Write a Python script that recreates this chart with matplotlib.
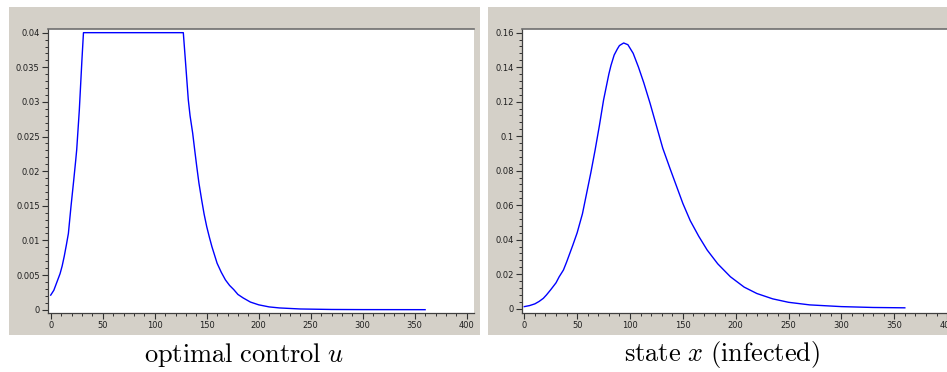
import matplotlib
matplotlib.use("Agg")
import matplotlib.pyplot as plt
from matplotlib.patches import Rectangle
from matplotlib.ticker import MultipleLocator

plt.rcParams['mathtext.fontset'] = 'cm'

# ---- data ----
t_u = [0, 3, 5, 7, 9, 11, 13, 15, 17, 19.5, 22, 24, 25, 27.5, 30, 31.5,
       127.5, 129.5, 132.3, 134, 136.5, 138.5, 140.4, 142.5, 145.2, 147.5, 150,
       152.5, 155, 157.5, 160, 164, 168, 172, 176, 180, 185, 192, 200, 210, 220,
       240, 270, 300, 360]
u_vals = [0.0021, 0.0028, 0.0036, 0.0044, 0.0052, 0.0063, 0.0077, 0.0093, 0.011,
          0.0149, 0.0185, 0.0215, 0.0231, 0.0288, 0.036, 0.040,
          0.040, 0.036, 0.0303, 0.028, 0.0255, 0.023, 0.0207, 0.0183, 0.0158,
          0.0138, 0.0120, 0.0105, 0.0091, 0.0079, 0.0067, 0.0054, 0.0043, 0.0035,
          0.0029, 0.0022, 0.0017, 0.0011, 0.0007, 0.0004, 0.00025, 0.0001,
          0.00003, 0.00001, 0.0]

t_x = [0, 5, 10, 14, 18, 21, 25, 30, 33, 37, 40, 43, 46, 50, 55, 59, 63, 67, 71,
       75, 80, 82, 85, 88, 90, 94, 98, 103, 108, 113, 119, 125, 131, 138, 144,
       150, 157, 165, 173, 183, 195, 208, 220, 235, 250, 270, 300, 330, 360]
x_vals = [0.0012, 0.0018, 0.0028, 0.0042, 0.006, 0.008, 0.011, 0.015, 0.0185,
          0.0224, 0.027, 0.032, 0.037, 0.044, 0.055, 0.067, 0.079, 0.092, 0.106,
          0.121, 0.136, 0.141, 0.147, 0.1505, 0.1525, 0.154, 0.153, 0.148, 0.140,
          0.131, 0.119, 0.106, 0.093, 0.081, 0.071, 0.061, 0.051, 0.042, 0.034,
          0.026, 0.0185, 0.0125, 0.0088, 0.0057, 0.0037, 0.0022, 0.0012, 0.0007,
          0.0005]

x_ticks = [0, 50, 100, 150, 200, 250, 300, 350, 400]
u_ticks = [0, 0.005, 0.01, 0.015, 0.02, 0.025, 0.03, 0.035, 0.04]
u_ticklabels = ['0', '0.005', '0.01', '0.015', '0.02', '0.025', '0.03', '0.035', '0.04']
x_state_ticks = [0, 0.02, 0.04, 0.06, 0.08, 0.1, 0.12, 0.14, 0.16]
x_state_ticklabels = ['0', '0.02', '0.04', '0.06', '0.08', '0.1', '0.12', '0.14', '0.16']

captions = [r'$\mathrm{optimal\ control}\ u$', r'$\mathrm{state}\ x\ \mathrm{(infected)}$']

W, H = 947, 372
fig = plt.figure(figsize=(W / 100, H / 100), dpi=100)
fig.patch.set_facecolor('white')

gray = '#d4d0c8'
def fx(px):
    return px / W
def fy(py):
    return 1 - py / H

# gray panels (behind the axes)
for (x0, x1) in [(9, 480), (488, 947)]:
    fig.patches.append(Rectangle((fx(x0), fy(335)), fx(x1 - x0), (335 - 7) / H,
                                 transform=fig.transFigure, facecolor=gray,
                                 edgecolor='none', zorder=-10))

def style(ax, ymaj, ymin):
    ax.set_facecolor('white')
    ax.spines['right'].set_visible(False)
    ax.spines['top'].set_color('#6e6e6e')
    ax.spines['top'].set_linewidth(1.2)
    ax.spines['left'].set_color('#404040')
    ax.spines['bottom'].set_color('#404040')
    ax.spines['left'].set_linewidth(0.9)
    ax.spines['bottom'].set_linewidth(0.9)
    ax.xaxis.set_major_locator(MultipleLocator(50))
    ax.xaxis.set_minor_locator(MultipleLocator(10))
    ax.yaxis.set_major_locator(MultipleLocator(ymaj))
    ax.yaxis.set_minor_locator(MultipleLocator(ymin))
    ax.tick_params(which='major', direction='out', length=4, width=0.8,
                   color='#303030', labelsize=6, labelcolor='#202020', pad=2)
    ax.tick_params(which='minor', direction='out', length=2.2, width=0.7,
                   color='#303030')
    ax.tick_params(top=False, right=False, which='both')

# left axes
axL = fig.add_axes([fx(48), fy(313), fx(474 - 48), (313 - 29) / H])
axL.set_zorder(1)
axL.plot(t_u, u_vals, color='#0000ff', lw=1.0)
axL.set_xlim(-2.6, 407)
axL.set_ylim(-0.00048, 0.04053)
style(axL, 0.005, 0.001)
axL.set_yticks(u_ticks)
axL.set_yticklabels(u_ticklabels)

# right axes
xmax_r = 408
right_px = 524.3 + xmax_r * 1.057
axR = fig.add_axes([fx(522.3), fy(313), fx(right_px - 522.3), (313 - 29) / H])
axR.set_zorder(1)
axR.plot(t_x, x_vals, color='#0000ff', lw=1.0)
axR.set_xlim(-1.9, xmax_r)
axR.set_ylim(-0.0025, 0.1621)
style(axR, 0.02, 0.004)
axR.set_yticks(x_state_ticks)
axR.set_yticklabels(x_state_ticklabels)

for ax in (axL, axR):
    ax.set_xticks(x_ticks)
    ax.set_xticklabels([str(v) for v in x_ticks])

fig.text(fx(244), fy(355), captions[0], ha='center', va='center', fontsize=19)
fig.text(fx(722.6), fy(355), captions[1], ha='center', va='center', fontsize=19)

fig.savefig('out.png', dpi=100, facecolor='white')
